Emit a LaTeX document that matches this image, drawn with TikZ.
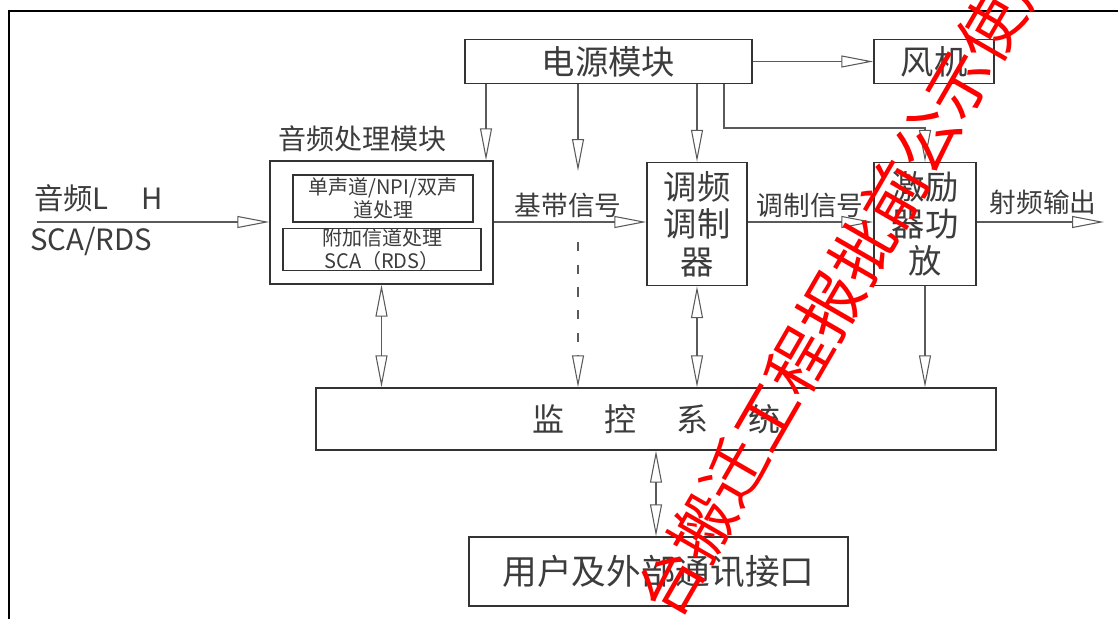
\documentclass[tikz,border=0pt]{standalone}
\usepackage{fontspec}
\setmainfont{Noto Sans CJK SC}
\usepackage{xcolor}
\usetikzlibrary{arrows.meta,positioning}
\definecolor{lineGray}{HTML}{5A5A5A}
\definecolor{textGray}{HTML}{3C3C3C}
\definecolor{markRed}{HTML}{FF0000}

\begin{document}
\begin{tikzpicture}[x=0.75pt,y=-0.75pt,
    box/.style={draw=black!80, line width=1pt, inner sep=0pt, text=textGray},
    lbl/.style={text=textGray, inner sep=0pt, font=\fontsize{20pt}{22pt}\selectfont},
    arr/.style={draw=lineGray, line width=0.8pt, -{Triangle[open,length=24pt,width=9pt]}},
    biarr/.style={draw=lineGray, line width=0.8pt, {Triangle[open,length=24pt,width=9pt]}-{Triangle[open,length=24pt,width=9pt]}},
    wire/.style={draw=lineGray, line width=0.8pt}]
        \useasboundingbox (0,0) rectangle (1118,618);
        \fill[white] (0,0) rectangle (1118,618);
        \draw[line width=1.5pt] (1130,10.5) -- (8.5,10.5) -- (8.5,630);

        % blocks
        \node[box, minimum width=215.25pt, minimum height=33pt, font=\fontsize{25pt}{28pt}\selectfont] (power) at (608.5,61.5) {电源模块};
        \node[box, minimum width=90pt, minimum height=33pt, font=\fontsize{25pt}{28pt}\selectfont] (fan) at (934,61.5) {风机};
        \node[box, minimum width=167.25pt, minimum height=92.25pt] (audio) at (381.5,222.5) {};
        \node[box, line width=0.9pt, minimum width=135pt, minimum height=35.25pt, align=center,
              font=\fontsize{15pt}{17pt}\selectfont] (mono) at (383,198.5) {单声道/NPI/双声\\道处理};
        \node[box, line width=0.9pt, minimum width=148.5pt, minimum height=29.25pt, align=center,
              font=\fontsize{15pt}{17pt}\selectfont] (sca) at (382,249.5) {附加信道处理\\SCA（RDS）};
        \node[box, minimum width=75pt, minimum height=92.25pt, align=center,
              font=\fontsize{25pt}{28pt}\selectfont] (fm) at (697,224) {调频\\调制\\器};
        \node[box, minimum width=76.5pt, minimum height=92.25pt, align=center,
              font=\fontsize{25pt}{28pt}\selectfont] (amp) at (925,224) {激励\\器功\\放};
        \node[box, minimum width=510pt, minimum height=46.5pt, font=\fontsize{24pt}{26pt}\selectfont] (monitor) at (656,419)
            {监\hspace{1.25em}控\hspace{1.25em}系\hspace{1.25em}统};
        \node[box, minimum width=284.25pt, minimum height=51.75pt, font=\fontsize{26pt}{28pt}\selectfont] (user) at (658.5,571.5) {用户及外部通讯接口};

        % labels
        \node[lbl, font=\fontsize{21pt}{23pt}\selectfont] (audiolbl) at (362,139) {音频处理模块};
        \node[lbl, anchor=west, font=\fontsize{22pt}{24pt}\selectfont] (inlbl) at (34,198) {音频L\hspace{1.1em}H};
        \node[lbl, anchor=west, font=\fontsize{22pt}{24pt}\selectfont] (scalbl) at (30,241) {SCA/RDS};
        \node[lbl] (baselbl) at (568,205) {基带信号};
        \node[lbl] (modlbl) at (810,205) {调制信号};
        \node[lbl] (rflbl) at (1043,202) {射频输出};

        \coordinate (in) at (37,222);
        \coordinate (rfout) at (1104,222);
        \coordinate (pfree) at (578,171);
        \coordinate (dash) at (578,242);
        \coordinate (bend) at (724,128);

        % connectors
        \draw[arr] (in) -- (audio.west |- in);
        \draw[arr] (audio.east |- in) -- (fm.west |- in);
        \draw[arr] (fm.east |- in) -- (amp.west |- in);
        \draw[arr] (amp.east |- in) -- (rfout);
        \draw[arr] (power.east) -- (fan.west);
        \draw[arr] (power.south -| 486,0) -- (audio.north -| 486,0);
        \draw[arr] (power.south -| pfree) -- (pfree);
        \draw[arr] (power.south -| fm) -- (fm.north);
        \draw[arr] (power.south -| bend) -- (bend) -- (bend -| amp) -- (amp.north);
        \draw[arr, dash pattern=on 7pt off 10pt] (dash) -- (monitor.north -| dash);
        \draw[biarr] (audio.south) -- (monitor.north -| audio);
        \draw[biarr] (fm.south) -- (monitor.north -| fm);
        \draw[arr] (amp.south) -- (monitor.north -| amp);
        \draw[biarr] (monitor.south) -- (user.north -| monitor);

        % overlay text
        \node[text=markRed, rotate=60, inner sep=0pt, font=\fontsize{48pt}{50pt}\selectfont] (stamp) at (846,278)
            {台搬迁工程报批前公示使用};
    \end{tikzpicture}
\end{document}
